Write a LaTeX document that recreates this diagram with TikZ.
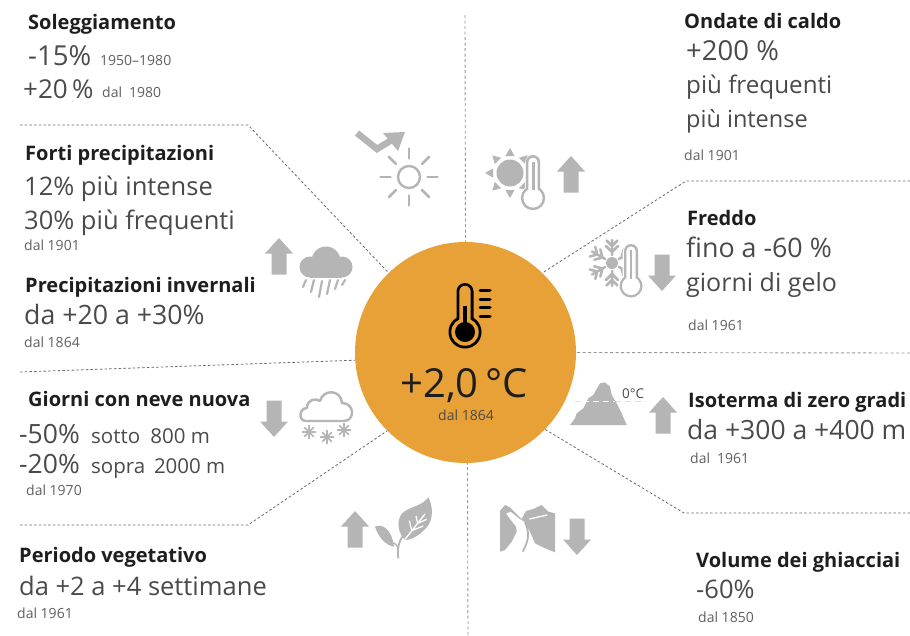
\documentclass[tikz,border=0pt]{standalone}
\usepackage{fontspec}
\setmainfont{Open Sans}
\definecolor{ico}{HTML}{B5B5B5}
\definecolor{orangec}{HTML}{E8A137}
\definecolor{dk}{HTML}{1E1E1E}
\definecolor{bd}{HTML}{4A4A4A}
\definecolor{sm}{HTML}{606060}
\definecolor{dsh}{HTML}{6A6A6A}
\tikzset{
 head/.style={anchor=base west,inner sep=0pt,text=dk,font=\fontsize{20}{22}\selectfont\bfseries},
 big/.style={anchor=base west,inner sep=0pt,text=bd,font=\fontsize{#1}{28}\selectfont},
 big/.default=25.5,
 mid/.style={anchor=base west,inner sep=0pt,text=bd,font=\fontsize{20.5}{22}\selectfont},
 small/.style={anchor=base west,inner sep=0pt,text=sm,font=\fontsize{14}{15}\selectfont},
 sep/.style={draw=dsh,line width=0.8pt,dash pattern=on 2.5pt off 2.2pt},
 sepv/.style={draw=dsh!70,line width=0.9pt,dash pattern=on 3pt off 2.5pt},
 icof/.style={fill=ico,draw=none},
 icol/.style={draw=ico,line cap=round,line join=round},
}
\newcommand{\blockarrow}[3]{\fill[icof,shift={(#1,#2)},yscale=#3] (0,0)--(14,15.5)--(7.5,15.5)--(7.5,36.5)--(-7.5,36.5)--(-7.5,15.5)--(-14,15.5)--cycle;}
\newcommand{\thermo}[8]{%
 \pgfmathsetmacro{\hwi}{#4-#6}\pgfmathsetmacro{\bri}{#5-#6}\pgfmathsetmacro{\topi}{#2+#6}%
 \begin{scope}[shift={(#1,0)}]
 \fill[#7,rounded corners=#4pt] (-#4,#2) rectangle (#4,#3);
 \fill[#7] (0,#3) circle (#5);
 \fill[#8,rounded corners=\hwi pt] (-\hwi,\topi) rectangle (\hwi,#3);
 \fill[#8] (0,#3) circle (\bri);
 \end{scope}}
\begin{document}
\begin{tikzpicture}[x=1pt,y=-1pt]
\useasboundingbox (0,0) rectangle (910,635);
\fill[white] (0,0) rectangle (910,635);
\node[circle,fill=orangec,minimum size=221pt,inner sep=0pt] (core) at (465.5,352.5) {};
% separators
\coordinate (a1) at (20,125); \coordinate (a2) at (248,125);
\draw[sep] (a1) -- (a2) -- (core.134);
\coordinate (b1) at (465,15); \draw[sepv] (b1) -- (core.90);
\coordinate (c1) at (910,181); \coordinate (c2) at (686,181);
\draw[sep] (c1) -- (c2) -- (core.46);
\coordinate (d1) at (910,353); \draw[sepv] (d1) -- (core.0);
\coordinate (e1) at (910,513); \coordinate (e2) at (684,513);
\draw[sep] (e1) -- (e2) -- (core.-44);
\coordinate (f1) at (468,635); \draw[sepv] (f1) -- (core.-89);
\coordinate (g1) at (20,525); \coordinate (g2) at (248,525);
\draw[sep] (g1) -- (g2) -- (core.-135);
\coordinate (h1) at (20,372); \draw[sep] (h1) -- (core.184);
% block arrows
\blockarrow{571}{156}{1}
\blockarrow{662}{291}{-1}
\blockarrow{663}{397}{1}
\blockarrow{577}{555}{-1}
\blockarrow{355}{511}{1}
\blockarrow{274}{437}{-1}
\blockarrow{279}{238}{1}
% sun with trend
\draw[icol,line width=2.4pt] (409,177) circle (11);
\foreach \a in {0,45,...,315} \draw[icol,line width=2.6pt] (409,177)++(\a:18.5) -- ++(\a:10);
\draw[ico,line width=6.5pt,line join=miter] (357,133) -- (377,149) -- (395,138);
\fill[icof] (405,132) -- (383,133) -- (398,151) -- cycle;
% sun + thermometer
\fill[icof] (510,173) circle (13.5);
\foreach \a in {0,45,...,315} \fill[icof,shift={(510,173)},rotate=\a] (17,-4.5) .. controls (20,-3) and (23,-1) .. (25,0) .. controls (23,1) and (20,3) .. (17,4.5) -- cycle;
\thermo{533}{155}{198}{8}{13}{2.6}{white}{white}
\thermo{533}{155}{198}{7.2}{12.2}{2.6}{ico}{white}
\fill[icof] (531.5,162) rectangle (534.5,190);
% snowflake + thermometer
\fill[icof] (612,263) circle (6);
\foreach \a in {0,60,...,300} {
 \draw[icol,line width=2.5pt,shift={(612,263)},rotate=\a+30] (8,0) -- (23,0) (11,0) -- (17,-6) (11,0) -- (17,6) (17,0) -- (22.5,-5.5) (17,0) -- (22.5,5.5);
}
\thermo{631}{244}{286}{8.5}{13}{2.4}{white}{white}
\thermo{631}{244}{286}{7}{11.5}{2.4}{ico}{white}
\fill[icof] (629.6,250) rectangle (632.4,279);
% main thermometer
\thermo{465}{283}{332}{8.5}{16.5}{2.8}{black}{orangec}
\fill[black] (465,332) circle (10);
\fill[black] (463,306) rectangle (467,330);
\foreach \y in {290,299,307,316} \draw[black,line width=3pt,line cap=round] (480,\y) -- (490,\y);
% mountain
\draw[black!12,line width=0.7pt,dash pattern=on 6pt off 4pt] (575,401) -- (646,401);
\begin{scope}[shift={(565,375)},scale=0.3333]
\fill[icof] (15,150) -- (30,130) -- (35,115) -- (55,100) -- (70,70) -- (85,60) -- (105,25) -- (120,22) -- (135,35) -- (140,60) -- (155,85) -- (170,115) -- (185,150) -- cycle;
\draw[white,line width=0.7pt,dash pattern=on 6pt off 4pt] (55,78) -- (150,78);
\end{scope}
% rain cloud
\fill[icof] (310,267) circle (10.5) (326,261) circle (14.5) (342,267) circle (10.5);
\fill[icof] (310,262) rectangle (342,277.5);
\foreach \x/\ya/\yb in {306/280/287,314/280/292,322/281/297,330/280/294,338/280/289,345/280/285}
 \draw[icol,line width=2.2pt] (\x,\ya) -- (\x-3,\yb);
% snow cloud
\draw[icol,line width=2.4pt,line cap=butt] (306,421) .. controls (298,421) and (299,408) .. (307,408) .. controls (307,399) and (316,398) .. (320,401) .. controls (323,389) and (341,389) .. (342,403) .. controls (355,403) and (355,421) .. (344,421) -- cycle;
\foreach \cx/\cy in {309/432,327/437,344/430}
 \foreach \a in {0,45,...,135} \draw[icol,line width=1.5pt,shift={(\cx,\cy)}] (\a:-6.5) -- (\a:6.5);
% plant
\begin{scope}[shift={(370,490)},scale=0.3333]
\fill[icof] (175,22) .. controls (190,50) and (190,90) .. (170,112) .. controls (150,135) and (125,150) .. (105,150) .. controls (85,130) and (78,95) .. (95,72) .. controls (115,50) and (155,50) .. (175,22) -- cycle;
\draw[white,line width=1.3pt] (105,148) -- (165,72) (125,122) -- (160,108) (125,122) -- (118,92) (143,100) -- (170,88) (143,100) -- (138,78);
\fill[icof] (15,110) .. controls (35,100) and (65,115) .. (72,170) .. controls (45,165) and (25,140) .. (15,110) -- cycle;
\draw[ico,line width=1.8pt] (85,205) .. controls (80,175) and (88,145) .. (108,128);
\draw[ico,line width=1.4pt] (84,172) .. controls (80,165) and (76,162) .. (70,158);
\end{scope}
% glacier
\begin{scope}[shift={(490,495)},scale=0.3333]
\fill[icof] (30,170) -- (30,48) -- (45,30) -- (60,37) -- (95,72) -- (108,48) -- (130,42) -- (155,30) -- (175,50) -- (195,55) -- (195,172) -- (165,160) -- (135,145) -- (120,110) -- (103,80) -- (90,72) -- (62,50) -- (48,55) -- (62,75) -- (78,95) -- (80,110) -- (65,140) -- (45,165) -- cycle;
\draw[white,line width=1.3pt] (118,72) -- (172,60);
\draw[ico,line width=1.8pt] (105,82) .. controls (118,110) and (118,135) .. (98,170);
\end{scope}
% texts
\node[head] (t1) at (28,29) {Soleggiamento};
\node[big=27.5] (t1a) at (28,65) {-15\%};
\node[small] (t1b) at (100,65) {1950–1980};
\node[big=26] (t1c) at (23,98) {+20\,\%};
\node[small] (t1d) at (102,97) {dal\enspace 1980};
\node[head] (t2) at (25,160) {Forti precipitazioni};
\node[big] (t2a) at (24,195) {12\% più intense};
\node[big] (t2b) at (24,229) {30\% più frequenti};
\node[small] (t2c) at (24,250) {dal 1901};
\node[head] (t3) at (25,292) {Precipitazioni invernali};
\node[big=26.7] (t3a) at (24,324) {da +20 a +30\%};
\node[small] (t3b) at (24,347) {dal 1864};
\node[head] (t4) at (28,406) {Giorni con neve nuova};
\node[big=26.5] (t4a) at (19,443) {-50\%};
\node[mid] (t4b) at (91,443) {sotto\enspace 800 m};
\node[big=26.5] (t4c) at (19,473) {-20\%};
\node[mid] (t4d) at (91,473) {sopra\, 2000 m};
\node[small] (t4e) at (26,495) {dal 1970};
\node[head] (t5) at (19,562) {Periodo vegetativo};
\node[big] (t5a) at (19,595) {da +2 a +4 settimane};
\node[small] (t5b) at (17,618) {dal 1961};
\node[head] (t6) at (684,28) {Ondate di caldo};
\node[big=27.5] (t6a) at (686,60) {+200 \%};
\node[big=24.2] (t6b) at (686,93) {più frequenti};
\node[big=23.5] (t6c) at (686,127) {più intense};
\node[small] (t6d) at (684,160) {dal 1901};
\node[head] (t7) at (687,225) {Freddo};
\node[big=26.8] (t7a) at (686,257) {fino a -60 \%};
\node[big=25] (t7b) at (686,291) {giorni di gelo};
\node[small] (t7c) at (688,330) {dal 1961};
\node[head] (t8) at (688,407) {Isoterma di zero gradi};
\node[big=26.5] (t8a) at (687,439) {da +300 a +400 m};
\node[small] (t8b) at (690,463) {dal\enspace 1961};
\node[head] (t9) at (696,567) {Volume dei ghiacciai};
\node[big] (t9a) at (696,598) {-60\%};
\node[small] (t9b) at (698,622) {dal 1850};
\node[anchor=base,inner sep=0pt,text=dk,font=\fontsize{40}{42}\selectfont] (t0) at (464,397) {+2,0\,°C};
\node[anchor=base,inner sep=0pt,text=dk!80,font=\fontsize{14}{15}\selectfont] (t0a) at (466,420) {dal 1864};
\node[anchor=base west,inner sep=0pt,text=bd,font=\fontsize{13.5}{14}\selectfont] (t8c) at (622,398) {0°C};
\end{tikzpicture}
\end{document}
